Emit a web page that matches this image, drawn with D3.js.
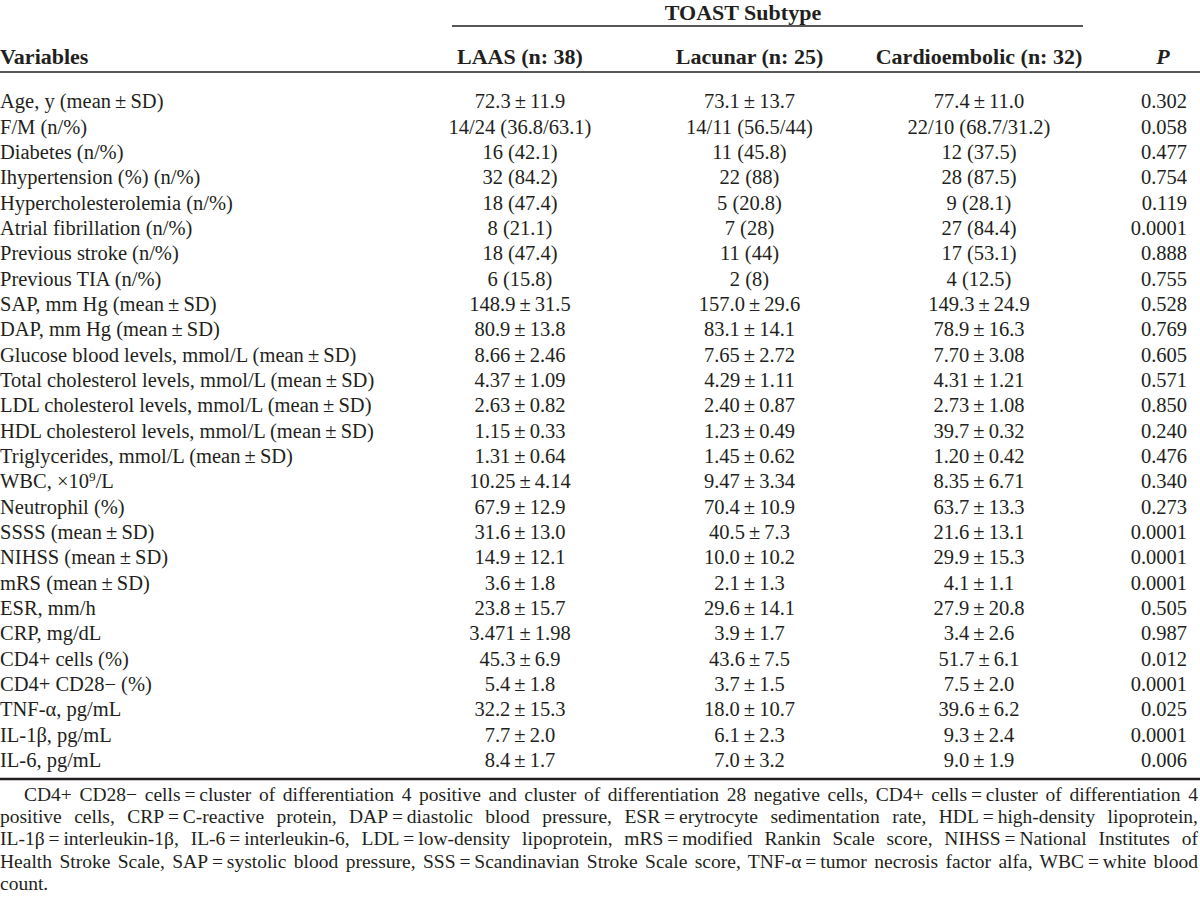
<!DOCTYPE html>
<html>
<head>
<meta charset="utf-8">
<script src="https://cdn.jsdelivr.net/npm/d3@7"></script>
<style>
html,body{margin:0;padding:0;background:#fff;}
svg{display:block;}
text{font-family:"Liberation Serif","Times New Roman",serif;fill:#231f20;}
</style>
</head>
<body>
<svg id="chart" width="1200" height="900"></svg>
<script>
const groupTitle = "TOAST Subtype";
const headers = ["LAAS (n: 38)", "Lacunar (n: 25)", "Cardioembolic (n: 32)"];
const firstHeader = "Variables";
const pHeader = "P";

const variables = [
  "Age, y (mean ± SD)",
  "F/M (n/%)",
  "Diabetes (n/%)",
  "Ihypertension (%) (n/%)",
  "Hypercholesterolemia (n/%)",
  "Atrial fibrillation (n/%)",
  "Previous stroke (n/%)",
  "Previous TIA (n/%)",
  "SAP, mm Hg (mean ± SD)",
  "DAP, mm Hg (mean ± SD)",
  "Glucose blood levels, mmol/L (mean ± SD)",
  "Total cholesterol levels, mmol/L (mean ± SD)",
  "LDL cholesterol levels, mmol/L (mean ± SD)",
  "HDL cholesterol levels, mmol/L (mean ± SD)",
  "Triglycerides, mmol/L (mean ± SD)",
  "WBC, ×10^9/L",
  "Neutrophil (%)",
  "SSSS (mean ± SD)",
  "NIHSS (mean ± SD)",
  "mRS (mean ± SD)",
  "ESR, mm/h",
  "CRP, mg/dL",
  "CD4+ cells (%)",
  "CD4+ CD28− (%)",
  "TNF-α, pg/mL",
  "IL-1β, pg/mL",
  "IL-6, pg/mL"
];

const laas = [
  "72.3 ± 11.9","14/24 (36.8/63.1)","16 (42.1)","32 (84.2)","18 (47.4)","8 (21.1)","18 (47.4)","6 (15.8)",
  "148.9 ± 31.5","80.9 ± 13.8","8.66 ± 2.46","4.37 ± 1.09","2.63 ± 0.82","1.15 ± 0.33","1.31 ± 0.64",
  "10.25 ± 4.14","67.9 ± 12.9","31.6 ± 13.0","14.9 ± 12.1","3.6 ± 1.8","23.8 ± 15.7","3.471 ± 1.98",
  "45.3 ± 6.9","5.4 ± 1.8","32.2 ± 15.3","7.7 ± 2.0","8.4 ± 1.7"
];
const lacunar = [
  "73.1 ± 13.7","14/11 (56.5/44)","11 (45.8)","22 (88)","5 (20.8)","7 (28)","11 (44)","2 (8)",
  "157.0 ± 29.6","83.1 ± 14.1","7.65 ± 2.72","4.29 ± 1.11","2.40 ± 0.87","1.23 ± 0.49","1.45 ± 0.62",
  "9.47 ± 3.34","70.4 ± 10.9","40.5 ± 7.3","10.0 ± 10.2","2.1 ± 1.3","29.6 ± 14.1","3.9 ± 1.7",
  "43.6 ± 7.5","3.7 ± 1.5","18.0 ± 10.7","6.1 ± 2.3","7.0 ± 3.2"
];
const cardioembolic = [
  "77.4 ± 11.0","22/10 (68.7/31.2)","12 (37.5)","28 (87.5)","9 (28.1)","27 (84.4)","17 (53.1)","4 (12.5)",
  "149.3 ± 24.9","78.9 ± 16.3","7.70 ± 3.08","4.31 ± 1.21","2.73 ± 1.08","39.7 ± 0.32","1.20 ± 0.42",
  "8.35 ± 6.71","63.7 ± 13.3","21.6 ± 13.1","29.9 ± 15.3","4.1 ± 1.1","27.9 ± 20.8","3.4 ± 2.6",
  "51.7 ± 6.1","7.5 ± 2.0","39.6 ± 6.2","9.3 ± 2.4","9.0 ± 1.9"
];
const pValues = [
  "0.302","0.058","0.477","0.754","0.119","0.0001","0.888","0.755","0.528","0.769","0.605","0.571",
  "0.850","0.240","0.476","0.340","0.273","0.0001","0.0001","0.0001","0.505","0.987","0.012","0.0001",
  "0.025","0.0001","0.006"
];

const footnoteLines = [
  "CD4+ CD28− cells = cluster of differentiation 4 positive and cluster of differentiation 28 negative cells, CD4+ cells = cluster of differentiation 4",
  "positive cells, CRP = C-reactive protein, DAP = diastolic blood pressure, ESR = erytrocyte sedimentation rate, HDL = high-density lipoprotein,",
  "IL-1β = interleukin-1β, IL-6 = interleukin-6, LDL = low-density lipoprotein, mRS = modified Rankin Scale score, NIHSS = National Institutes of",
  "Health Stroke Scale, SAP = systolic blood pressure, SSS = Scandinavian Stroke Scale score, TNF-α = tumor necrosis factor alfa, WBC = white blood",
  "count."
];

const thin = s => s.replace(/ ± /g, "\u2009±\u2009").replace(/ = /g, "\u2009=\u2009");

const svg = d3.select("#chart");
const W = 1200;
const bodySize = 20.5, headSize = 22, footSize = 19.5;

const y = d3.scalePoint().domain(d3.range(variables.length)).range([101, 760]);
const colX = d3.scalePoint().domain([0,1,2]).range([520, 979]);
const pX = 1187, pHeadX = 1163;
const headerY = 56, titleY = 12;

svg.append("line").attr("x1", 452).attr("x2", 1083).attr("y1", 26).attr("y2", 26)
  .attr("stroke", "#231f20").attr("stroke-width", 1.3);
svg.append("line").attr("x1", 0).attr("x2", W).attr("y1", 72).attr("y2", 72)
  .attr("stroke", "#231f20").attr("stroke-width", 1.6);
svg.append("line").attr("x1", 0).attr("x2", W).attr("y1", 779).attr("y2", 779)
  .attr("stroke", "#231f20").attr("stroke-width", 2.4);

svg.append("text").attr("x", 743).attr("y", titleY).attr("dy", "0.35em")
  .attr("text-anchor", "middle").attr("font-weight", "bold").attr("font-size", headSize)
  .text(groupTitle);

svg.append("text").attr("x", 0).attr("y", headerY).attr("dy", "0.35em")
  .attr("font-weight", "bold").attr("font-size", headSize).text(firstHeader);
svg.selectAll("text.colhead").data(headers).join("text").attr("class", "colhead")
  .attr("x", (d, i) => colX(i)).attr("y", headerY).attr("dy", "0.35em")
  .attr("text-anchor", "middle").attr("font-weight", "bold").attr("font-size", headSize)
  .text(d => d);
svg.append("text").attr("x", pHeadX).attr("y", headerY).attr("dy", "0.35em")
  .attr("text-anchor", "middle").attr("font-weight", "bold").attr("font-style", "italic")
  .attr("font-size", headSize).text(pHeader);

const vt = svg.selectAll("text.var").data(variables).join("text").attr("class", "var")
  .attr("x", 0).attr("y", (d, i) => y(i)).attr("dy", "0.35em").attr("font-size", bodySize);
vt.each(function(d) {
  const sel = d3.select(this);
  const s = thin(d);
  if (s.includes("^")) {
    const [a, rest] = s.split("^");
    sel.append("tspan").text(a);
    sel.append("tspan").attr("font-size", bodySize * 0.65).attr("dy", "-0.55em").text(rest[0]);
    sel.append("tspan").attr("dy", "0.36em").text(rest.slice(1));
  } else sel.text(s);
});

[laas, lacunar, cardioembolic].forEach((arr, ci) => {
  svg.selectAll("text.c" + ci).data(arr).join("text").attr("class", "c" + ci)
    .attr("x", colX(ci)).attr("y", (d, i) => y(i)).attr("dy", "0.35em")
    .attr("text-anchor", "middle").attr("font-size", bodySize).text(d => thin(d));
});
svg.selectAll("text.pv").data(pValues).join("text").attr("class", "pv")
  .attr("x", pX).attr("y", (d, i) => y(i)).attr("dy", "0.35em")
  .attr("text-anchor", "end").attr("font-size", bodySize).text(d => d);

const fy = d3.scalePoint().domain(d3.range(footnoteLines.length)).range([794, 883]);
footnoteLines.forEach((line, i) => {
  const x0 = i === 0 ? 24 : 0;
  const s = thin(line);
  const t = svg.append("text").attr("x", x0).attr("y", fy(i)).attr("dy", "0.35em")
    .attr("font-size", footSize).text(s);
  if (i < footnoteLines.length - 1) {
    const natural = t.node().getComputedTextLength();
    const spaces = (s.match(/ /g) || []).length;
    const extra = (1198 - x0 - natural) / spaces;
    t.attr("word-spacing", extra);
  }
});
</script>
</body>
</html>
